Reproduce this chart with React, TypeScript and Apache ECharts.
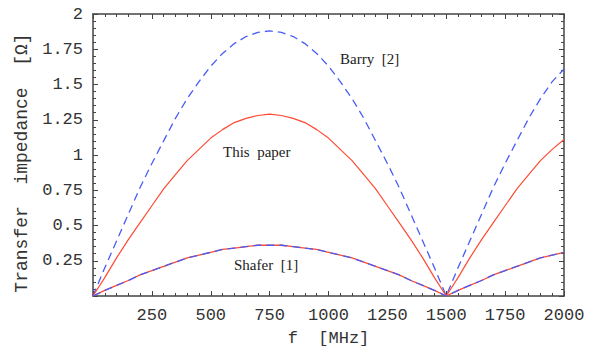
import React, { useEffect, useRef } from "react";
import * as echarts from "echarts";

const freqMHz = [
  0, 50, 100, 150, 200, 250, 300, 350, 400, 450, 500, 550, 600, 650, 700, 750,
  800, 850, 900, 950, 1000, 1050, 1100, 1150, 1200, 1250, 1300, 1350, 1400, 1450, 1500,
  1550, 1600, 1650, 1700, 1750, 1800, 1850, 1900, 1950, 2000,
];
const barry = [
  0, 0.2, 0.39, 0.58, 0.77, 0.94, 1.1, 1.26, 1.4, 1.52, 1.63, 1.72, 1.79, 1.84, 1.87, 1.88,
  1.87, 1.84, 1.79, 1.72, 1.63, 1.52, 1.4, 1.26, 1.1, 0.94, 0.77, 0.58, 0.39, 0.2, 0,
  0.2, 0.39, 0.58, 0.77, 0.94, 1.1, 1.26, 1.4, 1.52, 1.61,
];
const thisPaper = [
  0, 0.13, 0.27, 0.4, 0.52, 0.64, 0.76, 0.86, 0.96, 1.04, 1.12, 1.18, 1.23, 1.26, 1.28, 1.29,
  1.28, 1.26, 1.23, 1.18, 1.12, 1.04, 0.96, 0.86, 0.76, 0.64, 0.52, 0.4, 0.27, 0.13, 0,
  0.13, 0.27, 0.4, 0.52, 0.64, 0.76, 0.86, 0.96, 1.04, 1.11,
];
const shafer = [
  0, 0.04, 0.075, 0.11, 0.15, 0.18, 0.21, 0.24, 0.27, 0.29, 0.31, 0.33, 0.34, 0.35, 0.36, 0.36,
  0.36, 0.35, 0.34, 0.33, 0.31, 0.29, 0.27, 0.24, 0.21, 0.18, 0.15, 0.11, 0.075, 0.04, 0,
  0.04, 0.075, 0.11, 0.15, 0.18, 0.21, 0.24, 0.27, 0.29, 0.31,
];
const xTickLabels = ["250", "500", "750", "1000", "1250", "1500", "1750", "2000"];
const yTickLabels = ["0.25", "0.5", "0.75", "1", "1.25", "1.5", "1.75", "2"];

const RED = "#ff4a33";
const BLUE = "#4a5cf5";
const FRAME = "#444";
const TEXT = "#333";
const MONO = "Liberation Mono";
const SERIF = "Liberation Serif";

function pairs(vals: number[]) {
  return freqMHz.map((f, i) => [f, vals[i]]);
}

export default function App() {
  const ref = useRef<HTMLDivElement>(null);
  useEffect(() => {
    if (!ref.current) return;
    const chart = echarts.init(ref.current, undefined, { renderer: "svg" });
    const axisCommon = {
      axisLine: { show: true, onZero: false, lineStyle: { color: FRAME, width: 1.5 } },
      splitLine: { show: false },
      axisTick: { inside: true, length: 5, lineStyle: { color: FRAME } },
      minorTick: { show: true, splitNumber: 5, length: 3, lineStyle: { color: FRAME } },
    };
    const xFmt = (v: number) => {
      const s = String(Math.round(v));
      return xTickLabels.indexOf(s) >= 0 ? s : "";
    };
    const yFmt = (v: number) => {
      const s = String(Math.round(v * 100) / 100);
      return yTickLabels.indexOf(s) >= 0 ? s : "";
    };
    chart.setOption({
      animation: false,
      grid: { left: 93, right: 30, top: 14, bottom: 49, containLabel: false },
      xAxis: [
        {
          type: "value",
          min: 0,
          max: 2000,
          interval: 250,
          position: "bottom",
          ...axisCommon,
          axisLabel: {
            formatter: xFmt,
            fontFamily: MONO,
            fontSize: 17,
            color: TEXT,
            margin: 11,
          },
          name: "f  [MHz]",
          nameLocation: "middle",
          nameGap: 34,
          nameTextStyle: { fontFamily: MONO, fontSize: 17, color: TEXT },
        },
        {
          type: "value",
          min: 0,
          max: 2000,
          interval: 250,
          position: "top",
          ...axisCommon,
          axisLabel: { show: false },
        },
      ],
      yAxis: [
        {
          type: "value",
          min: 0,
          max: 2,
          interval: 0.25,
          position: "left",
          ...axisCommon,
          axisLabel: {
            formatter: yFmt,
            fontFamily: MONO,
            fontSize: 17,
            color: TEXT,
            margin: 10,
          },
        },
        {
          type: "value",
          min: 0,
          max: 2,
          interval: 0.25,
          position: "right",
          ...axisCommon,
          axisLabel: { show: false },
        },
      ],
      series: [
        {
          name: "Barry [2]",
          type: "line",
          data: pairs(barry),
          showSymbol: false,
          lineStyle: { color: BLUE, width: 1.3, type: [8, 5] },
        },
        {
          name: "This paper",
          type: "line",
          data: pairs(thisPaper),
          showSymbol: false,
          lineStyle: { color: RED, width: 1.2 },
        },
        {
          name: "Shafer [1] (red)",
          type: "line",
          data: pairs(shafer),
          showSymbol: false,
          lineStyle: { color: RED, width: 1.3 },
        },
        {
          name: "Shafer [1] (blue)",
          type: "line",
          data: pairs(shafer),
          showSymbol: false,
          lineStyle: { color: BLUE, width: 1.3, type: [8, 5] },
        },
      ],
      graphic: [
        {
          type: "text",
          x: 22,
          y: 163,
          rotation: Math.PI / 2,
          style: {
            text: "Transfer  impedance  [Ω]",
            font: `18px "${MONO}"`,
            fill: TEXT,
            align: "center",
            verticalAlign: "middle",
          },
        },
        {
          type: "text",
          left: 340,
          top: 51,
          style: { text: "Barry  [2]", font: `15px "${SERIF}"`, fill: "#222" },
        },
        {
          type: "text",
          left: 223,
          top: 144,
          style: { text: "This  paper", font: `15px "${SERIF}"`, fill: "#222" },
        },
        {
          type: "text",
          left: 234,
          top: 257,
          style: { text: "Shafer  [1]", font: `15px "${SERIF}"`, fill: "#222" },
        },
      ],
    });
    return () => chart.dispose();
  }, []);
  return (
    <div
      ref={ref}
      style={{ position: "fixed", left: 0, top: 0, width: 594, height: 352, background: "#fff" }}
    />
  );
}
